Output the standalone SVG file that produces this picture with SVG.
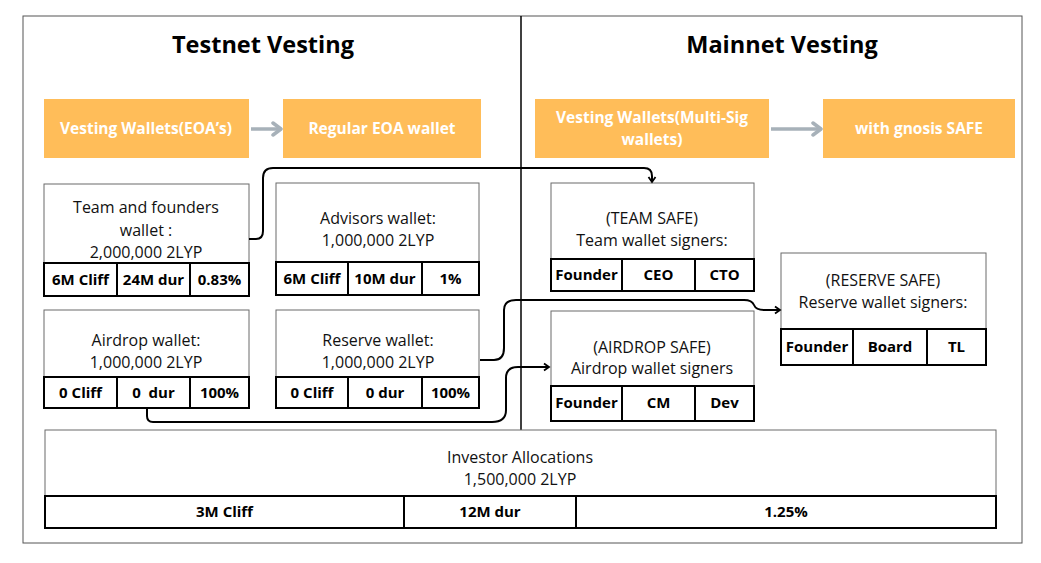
<svg xmlns="http://www.w3.org/2000/svg" width="1041" height="563" viewBox="0 0 1041 563">
<defs>
<style>
.box{fill:#fff;stroke:#6b6b6b;stroke-width:1}
.cell{fill:#fff;stroke:#000;stroke-width:2}
.t{font-family:"Open Sans","Liberation Sans",sans-serif;font-size:16px;fill:#111;text-anchor:middle}
.b{font-weight:700;font-size:15px;fill:#000}
.o{fill:#FFBD59}
.ot{fill:#fff;font-weight:700;font-size:15.5px}
.title{font-weight:700;font-size:23.5px;fill:#000}
.conn{fill:none;stroke:#000;stroke-width:2}
.garrow{stroke:#A7B1B9;stroke-width:3.5}
</style>
<marker id="ah" markerUnits="userSpaceOnUse" markerWidth="10" markerHeight="10" refX="7" refY="5" orient="auto"><path d="M2,1.5 L7,5 L2,8.5" fill="none" stroke="#000" stroke-width="1.8"/></marker>
<marker id="ga" markerUnits="userSpaceOnUse" markerWidth="16" markerHeight="16" refX="13" refY="8" orient="auto"><path d="M5,2 L13,8 L5,14" fill="none" stroke="#A7B1B9" stroke-width="3.5" stroke-linecap="round" stroke-linejoin="round"/></marker>
</defs>

<rect x="0" y="0" width="1041" height="563" fill="#fff"/>
<g id="frame">
<rect x="23" y="16" width="999" height="527" fill="#fff" stroke="#555" stroke-width="1"/>
<line x1="521" y1="16" x2="521" y2="430" stroke="#000" stroke-width="1.5"/>
<text class="t title" x="263" y="53">Testnet Vesting</text>
<text class="t title" x="782" y="53">Mainnet Vesting</text>
</g>

<g id="n-eoa">
<rect class="o" x="44" y="99" width="205" height="59"/>
<text class="t ot" x="146" y="134">Vesting Wallets(EOA’s)</text>
</g>
<g id="n-regular">
<rect class="o" x="283" y="99" width="198" height="59"/>
<text class="t ot" x="382" y="134">Regular EOA wallet</text>
</g>
<g id="n-multisig">
<rect class="o" x="535" y="99" width="234" height="59"/>
<text class="t ot" x="652" y="123">Vesting Wallets(Multi-Sig</text>
<text class="t ot" x="652" y="145">wallets)</text>
</g>
<g id="n-gnosis">
<rect class="o" x="823" y="99" width="192" height="59"/>
<text class="t ot" x="919" y="134">with gnosis SAFE</text>
</g>

<g id="n-team">
<rect class="box" x="44" y="184" width="205" height="112"/>
<text class="t" x="146" y="213">Team and founders</text>
<text class="t" x="146" y="236">wallet :</text>
<text class="t" x="146" y="258">2,000,000 2LYP</text>
<rect class="cell" x="44" y="263" width="73" height="33"/>
<rect class="cell" x="117" y="263" width="73" height="33"/>
<rect class="cell" x="190" y="263" width="59" height="33"/>
<text class="t b" x="80.5" y="285">6M Cliff</text>
<text class="t b" x="153.5" y="285">24M dur</text>
<text class="t b" x="219.5" y="285">0.83%</text>
</g>

<g id="n-advisors">
<rect class="box" x="276" y="183" width="203" height="112"/>
<text class="t" x="378" y="224">Advisors wallet:</text>
<text class="t" x="378" y="246">1,000,000 2LYP</text>
<rect class="cell" x="276" y="262" width="72" height="33"/>
<rect class="cell" x="348" y="262" width="74" height="33"/>
<rect class="cell" x="422" y="262" width="57" height="33"/>
<text class="t b" x="312" y="284">6M Cliff</text>
<text class="t b" x="385" y="284">10M dur</text>
<text class="t b" x="450.5" y="284">1%</text>
</g>

<g id="n-airdrop">
<rect class="box" x="44" y="310" width="205" height="98"/>
<text class="t" x="146" y="346">Airdrop wallet:</text>
<text class="t" x="146" y="368">1,000,000 2LYP</text>
<rect class="cell" x="44" y="377" width="73" height="31"/>
<rect class="cell" x="117" y="377" width="73" height="31"/>
<rect class="cell" x="190" y="377" width="59" height="31"/>
<text class="t b" x="80.5" y="398">0 Cliff</text>
<text class="t b" x="153.5" y="398" xml:space="preserve" style="white-space:pre">0  dur</text>
<text class="t b" x="219.5" y="398">100%</text>
</g>

<g id="n-reserve">
<rect class="box" x="276" y="310" width="203" height="98"/>
<text class="t" x="378" y="346">Reserve wallet:</text>
<text class="t" x="378" y="368">1,000,000 2LYP</text>
<rect class="cell" x="276" y="377" width="72" height="31"/>
<rect class="cell" x="348" y="377" width="74" height="31"/>
<rect class="cell" x="422" y="377" width="57" height="31"/>
<text class="t b" x="312" y="398">0 Cliff</text>
<text class="t b" x="385" y="398">0 dur</text>
<text class="t b" x="450.5" y="398">100%</text>
</g>

<g id="n-teamsafe">
<rect class="box" x="551" y="183" width="203" height="108"/>
<text class="t" x="652" y="224">(TEAM SAFE)</text>
<text class="t" x="652" y="246">Team wallet signers:</text>
<rect class="cell" x="551" y="259" width="71" height="32"/>
<rect class="cell" x="622" y="259" width="73" height="32"/>
<rect class="cell" x="695" y="259" width="59" height="32"/>
<text class="t b" x="586.5" y="280">Founder</text>
<text class="t b" x="658.5" y="280">CEO</text>
<text class="t b" x="724.5" y="280">CTO</text>
</g>

<g id="n-airdropsafe">
<rect class="box" x="551" y="311" width="203" height="110"/>
<text class="t" x="652" y="353">(AIRDROP SAFE)</text>
<text class="t" x="652" y="374">Airdrop wallet signers</text>
<rect class="cell" x="551" y="386" width="71" height="35"/>
<rect class="cell" x="622" y="386" width="73" height="35"/>
<rect class="cell" x="695" y="386" width="59" height="35"/>
<text class="t b" x="586.5" y="408">Founder</text>
<text class="t b" x="658.5" y="408">CM</text>
<text class="t b" x="724.5" y="408">Dev</text>
</g>

<g id="n-reservesafe">
<rect class="box" x="781" y="253" width="205" height="112"/>
<text class="t" x="883" y="286">(RESERVE SAFE)</text>
<text class="t" x="883" y="308">Reserve wallet signers:</text>
<rect class="cell" x="781" y="329" width="72" height="36"/>
<rect class="cell" x="853" y="329" width="74" height="36"/>
<rect class="cell" x="927" y="329" width="59" height="36"/>
<text class="t b" x="817" y="352">Founder</text>
<text class="t b" x="890" y="352">Board</text>
<text class="t b" x="956.5" y="352">TL</text>
</g>

<g id="n-investor">
<rect class="box" x="45" y="430" width="951" height="98"/>
<text class="t" x="520" y="463">Investor Allocations</text>
<text class="t" x="520" y="485">1,500,000 2LYP</text>
<rect class="cell" x="45" y="496" width="359" height="32"/>
<rect class="cell" x="404" y="496" width="172" height="32"/>
<rect class="cell" x="576" y="496" width="420" height="32"/>
<text class="t b" x="224.5" y="517">3M Cliff</text>
<text class="t b" x="490" y="517">12M dur</text>
<text class="t b" x="786" y="517">1.25%</text>
</g>

<g id="connectors">
<line class="garrow" x1="251" y1="129" x2="281" y2="129" marker-end="url(#ga)"/>
<line class="garrow" x1="771" y1="129" x2="821" y2="129" marker-end="url(#ga)"/>
<path class="conn" d="M249,239 H256 Q263,239 263,231 V178 Q263,168 273,168 H644 Q652,168 652,176 V182" marker-end="url(#ah)"/>
<path class="conn" d="M480,360 H494 Q504,360 504,348 V310 Q504,300 516,300 H744 Q752,300 754,305 Q756,310 764,310 H780" marker-end="url(#ah)"/>
<path class="conn" d="M147,408 V416 Q147,422 153,422 H492 Q506,422 506,410 V378 Q506,367 518,367 H549" marker-end="url(#ah)"/>
</g>
</svg>
